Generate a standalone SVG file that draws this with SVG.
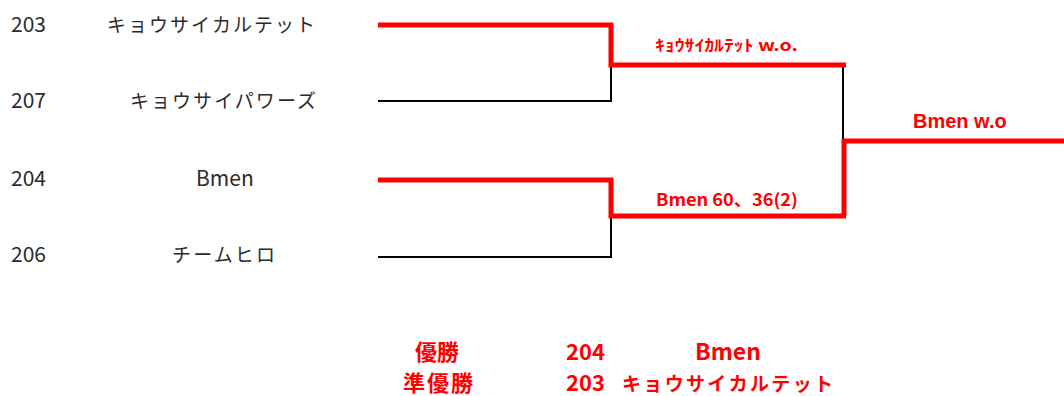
<svg xmlns="http://www.w3.org/2000/svg" width="1064" height="396" viewBox="0 0 1064 396">
<style>
.t{font-family:"Noto Sans CJK JP","Liberation Sans",sans-serif;font-size:19px;fill:#2b2b2b}
.n{font-family:"Noto Sans CJK JP","Liberation Sans",sans-serif;font-size:21px;fill:#2b2b2b}
.r{font-family:"Noto Sans CJK JP","Liberation Sans",sans-serif;font-weight:bold;fill:#ff0000}
.a{font-family:"Liberation Sans",Arial,sans-serif;font-weight:bold;fill:#ff0000}
.k{stroke:#000;stroke-width:2;fill:none}
.w{stroke:#ff0000;stroke-width:5;fill:none}
</style>
<rect width="1064" height="396" fill="#fff"/>
<g id="connectors">
<polyline class="k" points="378,101 611,101 611,65"/>
<polyline class="k" points="378,257 611,257 611,216"/>
<polyline class="k" points="843,65 843,141"/>
<polyline class="w" points="378,25 611,25 611,65 846,65"/>
<polyline class="w" points="378,180 611,180 611,216 846,216 844,216 844,141 1064,141"/>
</g>
<g id="team203"><text class="n" x="11" y="32">203</text><text class="t" x="107" y="32" textLength="208" lengthAdjust="spacing">キョウサイカルテット</text></g>
<g id="team207"><text class="n" x="11" y="108">207</text><text class="t" x="130" y="108" textLength="186" lengthAdjust="spacing">キョウサイパワーズ</text></g>
<g id="team204"><text class="n" x="11" y="186">204</text><text class="n" x="196" y="186">Bmen</text></g>
<g id="team206"><text class="n" x="11" y="262">206</text><text class="t" x="172" y="262" textLength="103" lengthAdjust="spacing">チームヒロ</text></g>
<g id="semi1"><text class="r" x="655" y="51" font-size="16" textLength="143" lengthAdjust="spacingAndGlyphs">ｷｮｳｻｲｶﾙﾃｯﾄ w.o.</text></g>
<g id="semi2"><text class="r" x="656" y="206" font-size="17" textLength="142" lengthAdjust="spacingAndGlyphs">Bmen 60、36(2)</text></g>
<g id="final"><text class="a" x="913" y="128" font-size="20">Bmen w.o</text></g>
<g id="result">
<text class="r" x="415" y="360" font-size="22">優勝</text>
<text class="r" x="403" y="391" font-size="22" textLength="70">準優勝</text>
<text class="r" x="566" y="360" font-size="22">204</text>
<text class="r" x="566" y="391" font-size="22">203</text>
<text class="r" x="695" y="360" font-size="23">Bmen</text>
<text class="r" x="622" y="391" font-size="19" textLength="211" lengthAdjust="spacing">キョウサイカルテット</text>
</g>
</svg>
